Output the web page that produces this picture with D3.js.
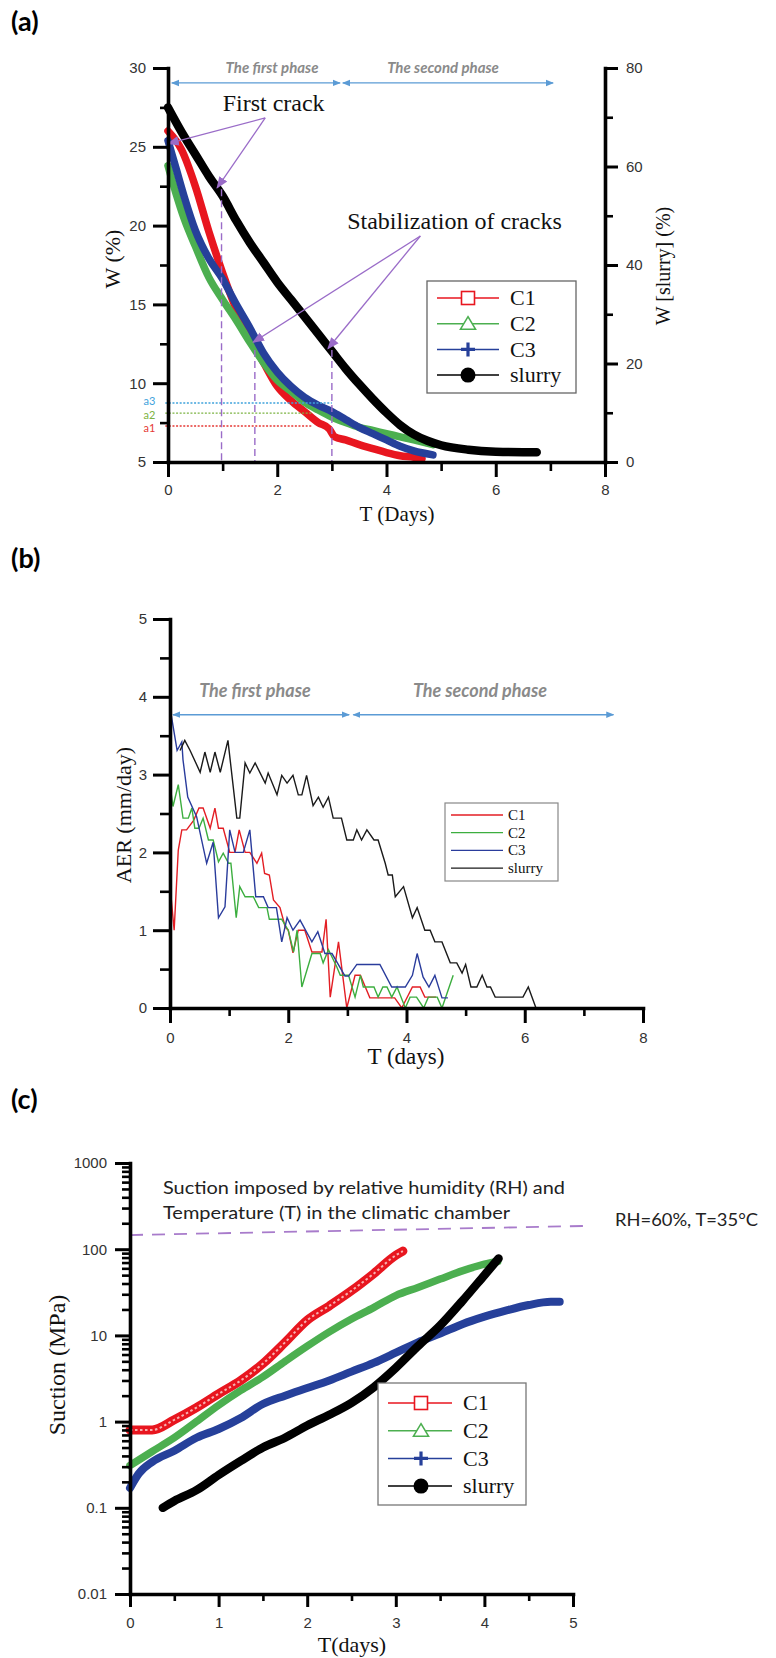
<!DOCTYPE html>
<html><head><meta charset="utf-8">
<script src="https://cdn.jsdelivr.net/npm/d3@7"></script>
<style>html,body{margin:0;padding:0;background:#fff;} svg{display:block;}</style>
</head><body>
<svg id="chart" width="776" height="1658"></svg>
<script>
// ================= DATA =================
const seriesNames = ["C1", "C2", "C3", "slurry"];

// ---- Panel (a): W (%) vs T (days); slurry on right axis W[slurry] (%)
const aC1T = [0,0.25,0.5,0.75,1,1.25,1.5,1.75,2,2.25,2.5,2.75,2.95,3.05,3.25,3.5,3.75,4,4.25,4.5,4.65];
const aC1W = [26.0,24.8,22.5,19.6,17.0,14.7,12.9,11.3,9.8,8.9,8.2,7.5,7.1,6.6,6.4,6.1,5.85,5.6,5.4,5.3,5.2];
const aC2T = [0,0.15,0.3,0.5,0.75,1,1.25,1.5,1.75,2,2.25,2.5,2.75,3,3.25,3.5,3.75,4,4.25,4.5,4.85];
const aC2W = [23.8,22.0,20.4,18.7,16.7,15.3,14.0,12.6,11.3,10.2,9.5,8.8,8.3,7.85,7.5,7.2,7.0,6.8,6.6,6.4,6.1];
const aC3T = [0,0.15,0.3,0.5,0.75,1,1.25,1.5,1.75,2,2.25,2.5,2.75,3,3.25,3.5,3.75,4,4.25,4.5,4.85];
const aC3W = [25.4,23.6,21.8,19.7,17.9,16.6,15.0,13.5,11.9,10.7,9.8,9.1,8.6,8.2,7.7,7.2,6.8,6.4,6.0,5.7,5.45];
const aSlT = [0,0.25,0.5,0.75,1,1.25,1.5,1.75,2,2.25,2.5,2.75,3,3.25,3.5,3.75,4,4.25,4.5,4.75,5,5.5,6,6.5,6.75];
const aSlW = [72,67,62.5,58,54,49,44.5,40.5,36.5,33,29.5,26,22.5,19,15.8,12.8,10,7.5,5.6,4.3,3.4,2.5,2.1,2.0,2.0];
const aTicksX = [0,2,4,6,8], aMinorX = [1,3,5,7];
const aTicksY = [5,10,15,20,25,30], aMinorY = [7.5,12.5,17.5,22.5,27.5];
const aTicksY2 = [0,20,40,60,80], aMinorY2 = [10,30,50,70];
// crack water-content levels (a1..a3) and crack times
const aLevelNames = ["a1","a2","a3"];
const aLevelW = [7.28, 8.1, 8.74];
const aLevelTEnd = [2.65, 2.65, 3.0];
const aCrackT = [0.98, 1.59, 3.0];
const aCrackTopW = [22.3, 12.1, 12.1];
const phaseNames = ["The first phase", "The second phase"];
const aPhaseT = [[0.07, 3.15], [3.2, 7.05]];
const aPhaseW = 29.05;

// ---- Panel (b): AER (mm/day) vs T (days)
const bC1 = [[0,1.58],[0.07,1.0],[0.14,2.03],[0.2,2.29],[0.28,2.29],[0.4,2.41],[0.49,2.57],[0.56,2.57],[0.68,2.31],[0.76,2.57],[0.82,2.31],[0.9,2.31],[1.01,2.0],[1.1,2.0],[1.17,2.29],[1.27,2.0],[1.35,2.0],[1.47,1.86],[1.55,1.99],[1.6,1.73],[1.68,1.71],[1.75,1.39],[1.86,1.29],[1.95,1.04],[2.0,1.0],[2.08,0.71],[2.17,1.0],[2.28,1.0],[2.4,0.72],[2.57,0.72],[2.64,1.14],[2.71,0.14],[2.85,0.85],[2.99,0],[3.13,0.42],[3.22,0.42],[3.38,0.13],[3.8,0.13],[3.92,0],[4.1,0.27],[4.23,0.27],[4.31,0.14],[4.5,0.14]];
const bC2 = [[0,2.87],[0.05,2.59],[0.14,2.87],[0.22,2.44],[0.31,2.44],[0.37,2.57],[0.42,2.31],[0.49,2.31],[0.56,2.44],[0.65,2.16],[0.73,2.16],[0.82,1.88],[0.9,1.99],[0.99,1.86],[1.03,1.86],[1.12,1.16],[1.18,1.56],[1.27,1.43],[1.41,1.43],[1.5,1.29],[1.64,1.29],[1.68,1.14],[1.89,1.14],[2.0,1.0],[2.09,0.72],[2.15,1.0],[2.23,0.27],[2.4,0.7],[2.54,0.7],[2.59,0.58],[2.68,0.75],[2.82,0.53],[2.88,0.42],[3.02,0.42],[3.13,0.14],[3.22,0.42],[3.27,0.27],[3.45,0.27],[3.52,0.14],[3.6,0.27],[3.67,0.27],[3.75,0.14],[3.84,0.27],[3.98,0],[4.06,0.14],[4.17,0.14],[4.29,0],[4.37,0.14],[4.52,0.14],[4.6,0],[4.79,0.42]];
const bC3 = [[0,3.86],[0.12,3.31],[0.2,3.42],[0.22,3.19],[0.3,2.71],[0.45,2.46],[0.62,1.86],[0.73,2.13],[0.82,1.16],[0.93,1.30],[1.01,2.29],[1.1,2.0],[1.24,2.0],[1.35,2.29],[1.45,1.43],[1.58,1.43],[1.66,1.29],[1.8,1.29],[1.89,0.85],[1.98,1.16],[2.08,1.0],[2.2,1.13],[2.4,0.85],[2.5,0.98],[2.62,0.70],[2.74,0.70],[2.96,0.41],[3.02,0.41],[3.16,0.56],[3.55,0.56],[3.75,0.27],[3.98,0.27],[4.1,0.42],[4.18,0.70],[4.28,0.4],[4.38,0.27],[4.48,0.42],[4.6,0.13],[4.7,0.13]];
const bSl = [[0.17,3.31],[0.25,3.44],[0.34,3.31],[0.51,3.03],[0.59,3.29],[0.68,3.03],[0.76,3.29],[0.85,3.03],[0.98,3.44],[1.13,2.44],[1.18,2.44],[1.27,3.15],[1.35,3.02],[1.44,3.15],[1.61,2.89],[1.66,3.02],[1.81,2.74],[1.89,2.99],[1.98,2.89],[2.08,2.99],[2.17,2.74],[2.23,2.74],[2.31,2.99],[2.42,2.6],[2.51,2.71],[2.59,2.58],[2.68,2.71],[2.76,2.44],[2.9,2.44],[2.99,2.16],[3.1,2.16],[3.16,2.29],[3.24,2.16],[3.33,2.29],[3.45,2.16],[3.52,2.16],[3.64,1.86],[3.69,1.71],[3.76,1.71],[3.81,1.43],[3.95,1.56],[4.1,1.16],[4.18,1.29],[4.31,1.0],[4.4,1.0],[4.48,0.85],[4.6,0.85],[4.74,0.58],[4.85,0.58],[4.94,0.45],[5.0,0.56],[5.09,0.27],[5.19,0.27],[5.28,0.42],[5.36,0.27],[5.42,0.27],[5.5,0.14],[5.97,0.14],[6.06,0.27],[6.19,0]];
const bTicksX = [0,2,4,6,8], bMinorX = [1,3,5,7];
const bTicksY = [0,1,2,3,4,5], bMinorY = [0.5,1.5,2.5,3.5,4.5];
const bPhaseT = [[0.05, 3.03], [3.1, 7.5]];
const bPhaseV = 3.77;

// ---- Panel (c): Suction (MPa, log) vs T (days)
const cC1T = [0,0.25,0.5,0.75,1,1.25,1.5,1.75,2,2.25,2.5,2.75,3,3.08];
const cC1S = [0.8,0.8,1.05,1.45,2.1,3.0,4.7,8.3,15,22,33,52,85,95];
const cC2T = [0,0.25,0.5,0.75,1,1.25,1.5,1.75,2,2.25,2.5,2.75,3,3.25,3.5,3.75,4,4.15];
const cC2S = [0.31,0.45,0.65,1.0,1.55,2.3,3.3,5.0,7.5,11,15.5,21,29,36,45,56,67,72];
const cC3T = [0,0.1,0.25,0.5,0.75,1,1.25,1.5,1.75,2,2.25,2.5,2.75,3,3.25,3.5,3.75,4,4.25,4.5,4.75,4.85];
const cC3S = [0.17,0.25,0.34,0.46,0.65,0.82,1.1,1.6,2.0,2.45,3.0,3.8,4.8,6.3,8.3,10.5,13.5,16.5,19.5,22.5,24.5,24.5];
const cSlT = [0.37,0.5,0.75,1,1.25,1.5,1.75,2,2.25,2.5,2.75,3,3.25,3.5,3.75,4,4.16];
const cSlS = [0.1,0.12,0.16,0.24,0.35,0.5,0.65,0.9,1.2,1.65,2.5,4.2,7.5,13,25,50,78];
const cImposedT = [0, 5.12];
const cImposedS = [146, 186];
const cTicksX = [0,1,2,3,4,5], cMinorX = [0.5,1.5,2.5,3.5,4.5];
const cTicksY = [0.01,0.1,1,10,100,1000];

// ================= DRAWING =================
const SERIF = "'Liberation Serif','DejaVu Serif',serif";
const SANS = "'Liberation Sans',Arial,sans-serif";
const CAL = "Lato,'Open Sans',sans-serif";
const COL = {C1:"#e8161f", C2:"#4caf50", C3:"#26409a", slurry:"#000000"};
const COLB = {C1:"#e31e24", C2:"#3cae3f", C3:"#2a3c9c", slurry:"#1a1a1a"};
const PURPLE = "#9a6cc8", BLUE_ARR = "#5b9bd5", PHASE_TXT = "#8a8a8a";
const fmt = d => String(d);

const svg = d3.select("#chart");
svg.append("rect").attr("width",776).attr("height",1658).attr("fill","#fff");
const defs = svg.append("defs");
function arrowMarker(id, color, size) {
  defs.append("marker").attr("id", id).attr("viewBox","0 0 10 10").attr("refX",9).attr("refY",5)
    .attr("markerWidth",size).attr("markerHeight",size).attr("markerUnits","userSpaceOnUse")
    .attr("orient","auto-start-reverse")
    .append("path").attr("d","M0,1 L10,5 L0,9 Z").attr("fill",color);
}
arrowMarker("arrB", BLUE_ARR, 8);
arrowMarker("arrP", PURPLE, 12);

const zip = (ts, vs) => ts.map((t,i) => ({t, v: vs[i]}));

function drawAxis(g, axis, minorAxis, tr, fs) {
  const ga = g.append("g").attr("transform", tr).call(axis);
  ga.select(".domain").attr("stroke","#000").attr("stroke-width",3.6).attr("stroke-linecap","square");
  ga.selectAll(".tick line").attr("stroke","#000").attr("stroke-width",3);
  ga.selectAll(".tick text").attr("font-family",SANS).attr("font-size",fs||15).attr("fill","#333");
  if (minorAxis) {
    const gm = g.append("g").attr("transform", tr).call(minorAxis);
    gm.select(".domain").remove();
    gm.selectAll(".tick line").attr("stroke","#000").attr("stroke-width",2.6);
  }
}

function legendMarker(g, name, cx, cy, color, scale) {
  const s = scale || 1;
  if (name === "C1") {
    g.append("rect").attr("x",cx-6.5*s).attr("y",cy-6.5*s).attr("width",13*s).attr("height",13*s)
      .attr("fill","#fff").attr("stroke",color).attr("stroke-width",1.6);
  } else if (name === "C2") {
    g.append("path").attr("d",`M${cx},${cy-7*s} L${cx+7.5*s},${cy+5.5*s} L${cx-7.5*s},${cy+5.5*s} Z`)
      .attr("fill","#fff").attr("stroke",color).attr("stroke-width",1.6);
  } else if (name === "C3") {
    g.append("path").attr("d",`M${cx-7*s},${cy} H${cx+7*s} M${cx},${cy-7*s} V${cy+7*s}`)
      .attr("stroke",color).attr("stroke-width",3.2);
  } else {
    g.append("circle").attr("cx",cx).attr("cy",cy).attr("r",7.5*s).attr("fill",color);
  }
}

function panelLabel(txt, x, y) {
  svg.append("text").attr("x",x).attr("y",y).text(txt)
    .attr("font-family",CAL).attr("font-weight",700).attr("font-size",27).attr("fill","#000");
}

// ---------- Panel (a) ----------
{
  const xA = d3.scaleLinear().domain([0,8]).range([168,605]);
  const yA = d3.scaleLinear().domain([5,30]).range([462,68]);
  const yA2 = d3.scaleLinear().domain([0,80]).range([462,68]);
  const g = svg.append("g");
  panelLabel("(a)", 11, 31);

  const line = (y) => d3.line().curve(d3.curveMonotoneX).x(d => xA(d.t)).y(d => y(d.v));
  const series = [
    {name:"C1", data: zip(aC1T,aC1W), y:yA, w:7.5},
    {name:"C2", data: zip(aC2T,aC2W), y:yA, w:7.5},
    {name:"C3", data: zip(aC3T,aC3W), y:yA, w:7.5},
    {name:"slurry", data: zip(aSlT,aSlW), y:yA2, w:8.5}
  ];
  series.forEach(s => {
    g.append("path").attr("d", line(s.y)(s.data)).attr("fill","none")
      .attr("stroke", COL[s.name]).attr("stroke-width", s.w).attr("stroke-linecap","round").attr("stroke-linejoin","round");
  });

  // crack levels a1..a3
  const levelCol = ["#e53935","#7cb342","#3fa3dc"];
  aLevelNames.forEach((n,i) => {
    g.append("line").attr("x1", xA(-0.05)).attr("x2", xA(aLevelTEnd[i]))
      .attr("y1", yA(aLevelW[i])).attr("y2", yA(aLevelW[i]))
      .attr("stroke", levelCol[i]).attr("stroke-width",1.4).attr("stroke-dasharray","2,1.6");
    g.append("text").attr("x", xA(-0.23)).attr("y", yA(aLevelW[i]) + (i===2?-2:2))
      .attr("dy","0.35em").attr("text-anchor","end").text(n)
      .attr("font-family",CAL).attr("font-size",11).attr("fill",levelCol[i]);
  });
  // vertical crack-time lines
  aCrackT.forEach((t,i) => {
    g.append("line").attr("x1",xA(t)).attr("x2",xA(t)).attr("y1",yA(aCrackTopW[i])).attr("y2",yA(5))
      .attr("stroke",PURPLE).attr("stroke-width",1.4).attr("stroke-dasharray","7,4");
  });
  // annotation arrows
  const arr = (t0,w0,t1,w1) => g.append("line").attr("x1",xA(t0)).attr("y1",yA(w0)).attr("x2",xA(t1)).attr("y2",yA(w1))
      .attr("stroke",PURPLE).attr("stroke-width",1.3).attr("marker-end","url(#arrP)");
  arr(1.78,26.83, 0.0,25.2);
  arr(1.78,26.83, 0.9,22.4);
  arr(4.62,19.34, 1.56,12.6);
  arr(4.62,19.34, 2.93,12.2);
  g.append("text").attr("x",xA(1.0)).attr("y",111).text("First crack")
    .attr("font-family",SERIF).attr("font-size",24).attr("fill","#111");
  g.append("text").attr("x",xA(3.28)).attr("y",229).text("Stabilization of cracks")
    .attr("font-family",SERIF).attr("font-size",24).attr("fill","#111");

  // phases
  aPhaseT.forEach((p,i) => {
    g.append("line").attr("x1",xA(p[0])).attr("x2",xA(p[1])).attr("y1",yA(aPhaseW)).attr("y2",yA(aPhaseW))
      .attr("stroke",BLUE_ARR).attr("stroke-width",1.3).attr("marker-start","url(#arrB)").attr("marker-end","url(#arrB)");
  });
  g.append("text").attr("x",272).attr("y",73).attr("text-anchor","middle").text(phaseNames[0])
    .attr("font-family",CAL).attr("font-weight",700).attr("font-style","italic").attr("font-size",15).attr("fill",PHASE_TXT);
  g.append("text").attr("x",443).attr("y",73).attr("text-anchor","middle").text(phaseNames[1])
    .attr("font-family",CAL).attr("font-weight",700).attr("font-style","italic").attr("font-size",15).attr("fill",PHASE_TXT);

  // axes
  drawAxis(g, d3.axisLeft(yA).tickValues(aTicksY).tickFormat(fmt).tickSize(15).tickSizeOuter(0).tickPadding(7),
           d3.axisLeft(yA).tickValues(aMinorY).tickSize(8).tickFormat(""), "translate(168,0)");
  drawAxis(g, d3.axisRight(yA2).tickValues(aTicksY2).tickFormat(fmt).tickSize(13).tickSizeOuter(0).tickPadding(8),
           d3.axisRight(yA2).tickValues(aMinorY2).tickSize(8).tickFormat(""), "translate(605,0)");
  drawAxis(g, d3.axisBottom(xA).tickValues(aTicksX).tickFormat(fmt).tickSize(15).tickSizeOuter(0).tickPadding(7),
           d3.axisBottom(xA).tickValues(aMinorX).tickSize(9).tickFormat(""), "translate(0,462)");

  g.append("text").attr("x",397).attr("y",521).attr("text-anchor","middle").text("T (Days)")
    .attr("font-family",SERIF).attr("font-size",21).attr("fill","#111");
  g.append("text").attr("transform","translate(120,259) rotate(-90)").attr("text-anchor","middle").text("W (%)")
    .attr("font-family",SERIF).attr("font-size",22).attr("fill","#111");
  g.append("text").attr("transform","translate(670,266) rotate(-90)").attr("text-anchor","middle").text("W [slurry] (%)")
    .attr("font-family",SERIF).attr("font-size",20).attr("fill","#111");

  // legend
  const lg = g.append("g");
  lg.append("rect").attr("x",427).attr("y",281).attr("width",149).attr("height",112)
    .attr("fill","#fff").attr("stroke","#666").attr("stroke-width",1.3);
  seriesNames.forEach((n,i) => {
    const cy = 298 + i*25.7;
    lg.append("line").attr("x1",437).attr("x2",499).attr("y1",cy).attr("y2",cy).attr("stroke",COL[n]).attr("stroke-width",1.5);
    legendMarker(lg, n, 468, cy, COL[n]);
    lg.append("text").attr("x",510).attr("y",cy).attr("dy","0.33em").text(n)
      .attr("font-family",SERIF).attr("font-size",22).attr("fill","#111");
  });
}

// ---------- Panel (b) ----------
{
  const xB = d3.scaleLinear().domain([0,8]).range([170,643]);
  const yB = d3.scaleLinear().domain([0,5]).range([1008,619]);
  const g = svg.append("g");
  panelLabel("(b)", 11, 568);
  const line = d3.line().x(d => xB(d[0])).y(d => yB(d[1]));
  [["C1",bC1],["C2",bC2],["C3",bC3],["slurry",bSl]].forEach(([n,d]) => {
    g.append("path").attr("d", line(d)).attr("fill","none").attr("stroke",COLB[n]).attr("stroke-width",1.4)
      .attr("stroke-linejoin","miter");
  });
  bPhaseT.forEach(p => {
    g.append("line").attr("x1",xB(p[0])).attr("x2",xB(p[1])).attr("y1",yB(bPhaseV)).attr("y2",yB(bPhaseV))
      .attr("stroke",BLUE_ARR).attr("stroke-width",1.4).attr("marker-start","url(#arrB)").attr("marker-end","url(#arrB)");
  });
  g.append("text").attr("x",255).attr("y",697).attr("text-anchor","middle").text(phaseNames[0])
    .attr("font-family",CAL).attr("font-weight",700).attr("font-style","italic").attr("font-size",18).attr("fill",PHASE_TXT);
  g.append("text").attr("x",480).attr("y",697).attr("text-anchor","middle").text(phaseNames[1])
    .attr("font-family",CAL).attr("font-weight",700).attr("font-style","italic").attr("font-size",18).attr("fill",PHASE_TXT);

  drawAxis(g, d3.axisLeft(yB).tickValues(bTicksY).tickFormat(fmt).tickSize(17).tickSizeOuter(0).tickPadding(6),
           d3.axisLeft(yB).tickValues(bMinorY).tickSize(10).tickFormat(""), "translate(170,0)");
  drawAxis(g, d3.axisBottom(xB).tickValues(bTicksX).tickFormat(fmt).tickSize(15).tickSizeOuter(0).tickPadding(9),
           d3.axisBottom(xB).tickValues(bMinorX).tickSize(8).tickFormat(""), "translate(0,1008)");

  g.append("text").attr("x",406).attr("y",1064).attr("text-anchor","middle").text("T (days)")
    .attr("font-family",SERIF).attr("font-size",23).attr("fill","#111");
  g.append("text").attr("transform","translate(131,815) rotate(-90)").attr("text-anchor","middle").text("AER (mm/day)")
    .attr("font-family",SERIF).attr("font-size",22).attr("fill","#111");

  const lg = g.append("g");
  lg.append("rect").attr("x",445).attr("y",803).attr("width",113).attr("height",78)
    .attr("fill","#fff").attr("stroke","#888").attr("stroke-width",1.2);
  seriesNames.forEach((n,i) => {
    const cy = 815 + i*17.7;
    lg.append("line").attr("x1",451).attr("x2",503).attr("y1",cy).attr("y2",cy).attr("stroke",COLB[n]).attr("stroke-width",1.3);
    lg.append("text").attr("x",508).attr("y",cy).attr("dy","0.33em").text(n)
      .attr("font-family",SERIF).attr("font-size",15).attr("fill","#111");
  });
}

// ---------- Panel (c) ----------
{
  const xC = d3.scaleLinear().domain([0,5]).range([130,573]);
  const yC = d3.scaleLog().domain([0.01,1000]).range([1594,1163]);
  const g = svg.append("g");
  panelLabel("(c)", 11, 1109);

  // imposed suction line
  g.append("path").attr("d", d3.line().x(d=>xC(d.t)).y(d=>yC(d.v))(zip(cImposedT,cImposedS)))
    .attr("fill","none").attr("stroke","#a87bcb").attr("stroke-width",1.8).attr("stroke-dasharray","13,9");
  g.append("text").attr("x",163).attr("y",1194).text("Suction imposed by relative humidity (RH) and")
    .attr("font-family",CAL).attr("font-size",18).attr("fill","#222").attr("textLength",402).attr("lengthAdjust","spacingAndGlyphs");
  g.append("text").attr("x",163).attr("y",1219).text("Temperature (T) in the climatic chamber")
    .attr("font-family",CAL).attr("font-size",18).attr("fill","#222").attr("textLength",347).attr("lengthAdjust","spacingAndGlyphs");
  g.append("text").attr("x",615).attr("y",1226).text("RH=60%, T=35°C")
    .attr("font-family",CAL).attr("font-size",18).attr("fill","#222").attr("textLength",143).attr("lengthAdjust","spacingAndGlyphs");

  const line = d3.line().curve(d3.curveMonotoneX).x(d => xC(d.t)).y(d => yC(d.v));
  const series = [
    {name:"C1", data: zip(cC1T,cC1S), w:9},
    {name:"C2", data: zip(cC2T,cC2S), w:7.5},
    {name:"C3", data: zip(cC3T,cC3S), w:8},
    {name:"slurry", data: zip(cSlT,cSlS), w:8.5}
  ];
  series.forEach(s => {
    g.append("path").attr("d", line(s.data)).attr("fill","none")
      .attr("stroke", COL[s.name]).attr("stroke-width", s.w).attr("stroke-linecap","round").attr("stroke-linejoin","round");
    if (s.name === "C1") {
      g.append("path").attr("d", line(s.data)).attr("fill","none")
        .attr("stroke", "#f7b0b0").attr("stroke-width", 2).attr("stroke-dasharray","2.5,2.5");
    }
  });

  const minorY = [];
  [0.01,0.1,1,10,100].forEach(d => { for (let k=2;k<=9;k++) minorY.push(d*k); });
  drawAxis(g, d3.axisLeft(yC).tickValues(cTicksY).tickFormat(fmt).tickSize(15).tickSizeOuter(0).tickPadding(8),
           d3.axisLeft(yC).tickValues(minorY).tickSize(8).tickFormat(""), "translate(130,0)");
  drawAxis(g, d3.axisBottom(xC).tickValues(cTicksX).tickFormat(fmt).tickSize(13).tickSizeOuter(0).tickPadding(10),
           d3.axisBottom(xC).tickValues(cMinorX).tickSize(7).tickFormat(""), "translate(0,1594)");

  g.append("text").attr("x",352).attr("y",1652).attr("text-anchor","middle").text("T(days)")
    .attr("font-family",SERIF).attr("font-size",22).attr("fill","#111");
  g.append("text").attr("transform","translate(65,1365) rotate(-90)").attr("text-anchor","middle").text("Suction (MPa)")
    .attr("font-family",SERIF).attr("font-size",24).attr("fill","#111");

  const lg = g.append("g");
  lg.append("rect").attr("x",378).attr("y",1383).attr("width",148).attr("height",122)
    .attr("fill","#fff").attr("stroke","#777").attr("stroke-width",1.3);
  seriesNames.forEach((n,i) => {
    const cy = 1403 + i*27.7;
    lg.append("line").attr("x1",388).attr("x2",452).attr("y1",cy).attr("y2",cy).attr("stroke",COL[n]).attr("stroke-width",1.5);
    legendMarker(lg, n, 421, cy, COL[n]);
    lg.append("text").attr("x",463).attr("y",cy).attr("dy","0.33em").text(n)
      .attr("font-family",SERIF).attr("font-size",22).attr("fill","#111");
  });
}
</script>
</body></html>
